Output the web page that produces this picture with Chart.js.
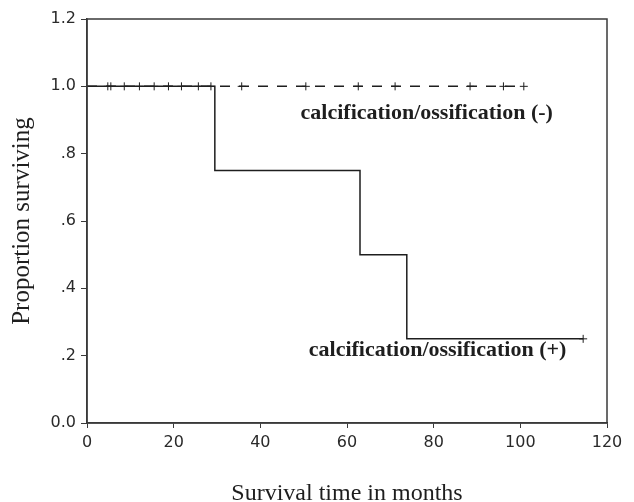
<!DOCTYPE html>
<html>
<head>
<meta charset="utf-8">
<script src="https://cdn.jsdelivr.net/npm/chart.js@4.4.1/dist/chart.umd.min.js"></script>
<style>
  html, body { margin: 0; padding: 0; background: #fff; }
  canvas { display: block; }
</style>
</head>
<body>
<canvas id="survivalChart" width="634" height="502"></canvas>
<script>
// calcification/ossification (-) : no events, censored cases only
const minusEndMonth = 100.8;
const minusCensorMonths = [4.8, 5.5, 8.6, 12.1, 15.5, 18.8, 21.8, 25.7, 28.6, 35.7, 50.5, 62.6, 71.1, 88.4, 96.1, 100.8];

// calcification/ossification (+) : step points (month, proportion surviving)
const plusMonths = [0, 29.5, 63, 73.8, 114.5];
const plusSurvival = [1.0, 0.75, 0.5, 0.25, 0.25];
const plusCensorMonths = [114.5];
const plusCensorSurvival = [0.25];

const xTickLabels = ['0', '20', '40', '60', '80', '100', '120'];
const yTickLabels = ['0.0', '.2', '.4', '.6', '.8', '1.0', '1.2'];

const groupLabels = [
    { text: 'calcification/ossification (-)', x: 78.4, y: 0.92 },
    { text: 'calcification/ossification (+)', x: 80.9, y: 0.217 }
];

const ink = '#1e1e1e';

// frame around the plot and the two curve labels
const framePlugin = {
    id: 'frameAndLabels',
    afterDraw(chart) {
        const { ctx, chartArea, scales } = chart;
        ctx.save();
        ctx.strokeStyle = '#3a3a3a';
        ctx.lineWidth = 1.5;
        ctx.strokeRect(chartArea.left, chartArea.top, chartArea.right - chartArea.left, chartArea.bottom - chartArea.top);

        ctx.fillStyle = ink;
        ctx.font = 'bold 22px "Liberation Serif", serif';
        ctx.textAlign = 'center';
        ctx.textBaseline = 'middle';
        groupLabels.forEach(l => {
            ctx.fillText(l.text, scales.x.getPixelForValue(l.x), scales.y.getPixelForValue(l.y));
        });
        ctx.restore();
    }
};

const ctx = document.getElementById('survivalChart').getContext('2d');
const survivalChart = new Chart(ctx, {
    type: 'scatter',
    data: {
        datasets: [
            {
                label: 'calcification/ossification (-)',
                data: [{ x: 0, y: 1 }, { x: minusEndMonth, y: 1 }],
                showLine: true,
                borderColor: ink,
                borderWidth: 1.5,
                borderDash: [10, 9],
                pointRadius: 0
            },
            {
                label: 'censored (-)',
                data: minusCensorMonths.map(m => ({ x: m, y: 1 })),
                showLine: false,
                pointStyle: 'cross',
                pointRadius: 4,
                borderColor: ink,
                borderWidth: 1
            },
            {
                label: 'calcification/ossification (+)',
                data: plusMonths.map((m, i) => ({ x: m, y: plusSurvival[i] })),
                showLine: true,
                stepped: 'before',
                borderColor: ink,
                borderWidth: 1.5,
                pointRadius: 0
            },
            {
                label: 'censored (+)',
                data: plusCensorMonths.map((m, i) => ({ x: m, y: plusCensorSurvival[i] })),
                showLine: false,
                pointStyle: 'cross',
                pointRadius: 4,
                borderColor: ink,
                borderWidth: 1
            }
        ]
    },
    options: {
        responsive: false,
        animation: false,
        layout: { padding: { left: 0, right: 27, top: 19, bottom: 0 } },
        plugins: {
            legend: { display: false },
            tooltip: { enabled: false }
        },
        scales: {
            x: {
                type: 'linear',
                min: 0,
                max: 120,
                afterFit: scale => { scale.height = 79; },
                border: { display: true, color: '#3a3a3a', width: 1.5 },
                grid: { display: true, drawOnChartArea: false, drawTicks: true, tickLength: 5, color: '#3a3a3a' },
                ticks: {
                    stepSize: 20,
                    padding: 5,
                    color: '#2a2a2a',
                    font: { family: '"DejaVu Sans", sans-serif', size: 16 },
                    callback: (v, i) => xTickLabels[i]
                },
                title: {
                    display: true,
                    text: 'Survival time in months',
                    color: ink,
                    font: { family: '"Liberation Serif", serif', size: 24, lineHeight: 1 },
                    padding: { top: 0, bottom: -4 }
                }
            },
            y: {
                min: 0,
                max: 1.2,
                afterFit: scale => { scale.width = 87; },
                border: { display: true, color: '#3a3a3a', width: 1.5 },
                grid: { display: true, drawOnChartArea: false, drawTicks: true, tickLength: 6, color: '#3a3a3a' },
                ticks: {
                    stepSize: 0.2,
                    padding: 5,
                    color: '#2a2a2a',
                    font: { family: '"DejaVu Sans", sans-serif', size: 16 },
                    callback: (v, i) => yTickLabels[i]
                },
                title: {
                    display: true,
                    text: 'Proportion surviving',
                    color: ink,
                    font: { family: '"Liberation Serif", serif', size: 25, lineHeight: 1 },
                    padding: { top: 10, bottom: 0 }
                }
            }
        }
    },
    plugins: [framePlugin]
});
</script>
</body>
</html>
